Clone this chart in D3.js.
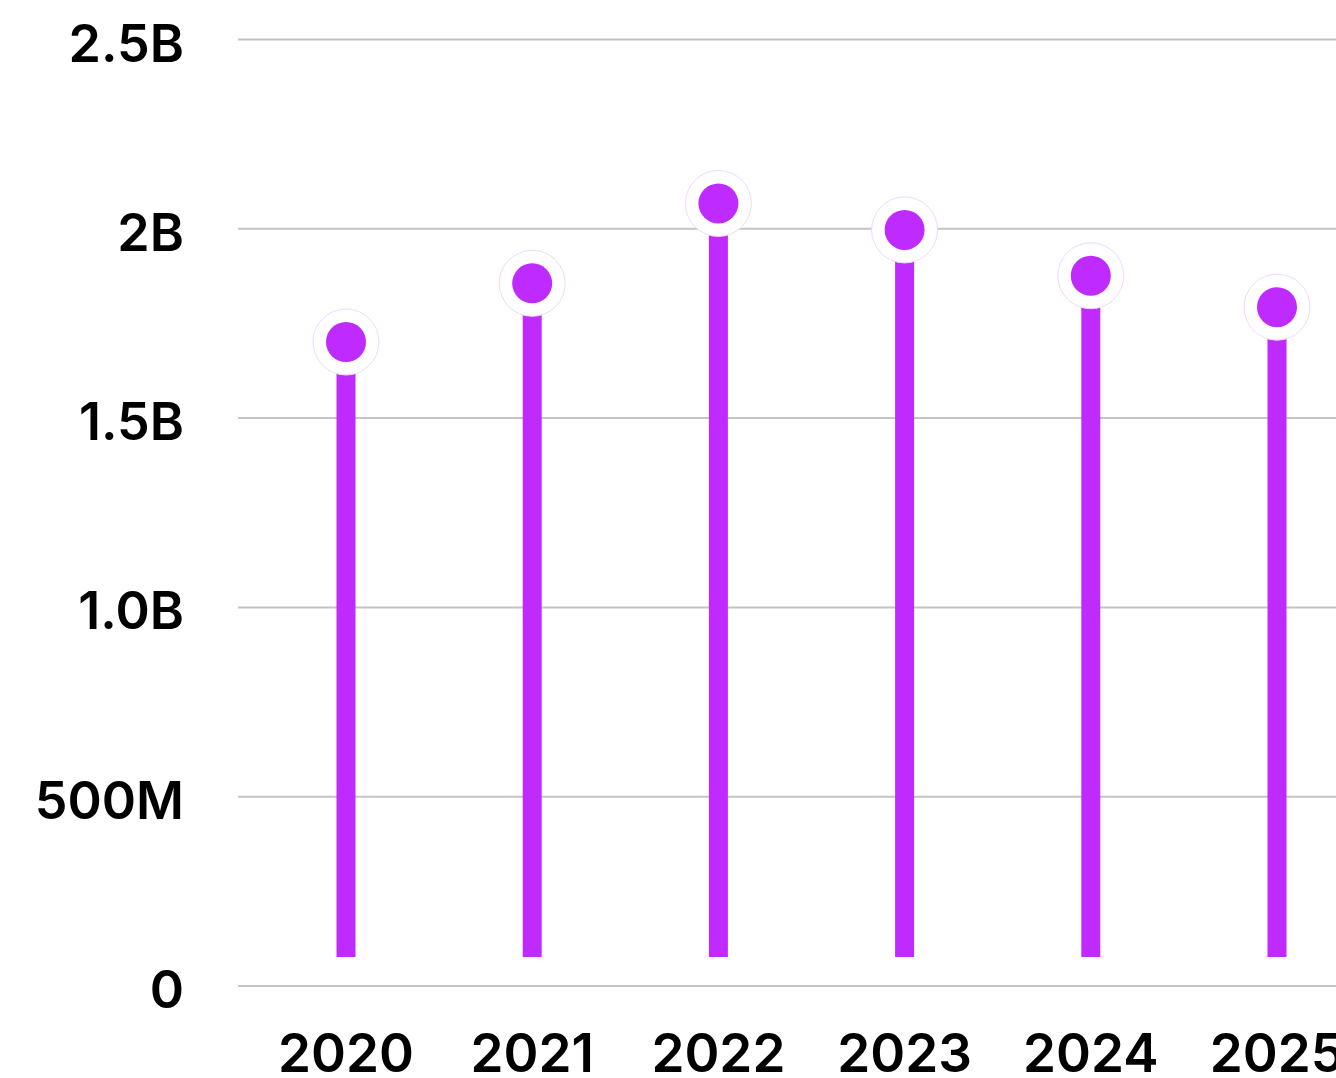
<!DOCTYPE html>
<html>
<head>
<meta charset="utf-8">
<script src="https://cdn.jsdelivr.net/npm/d3@7"></script>
<style>
  html, body { margin: 0; padding: 0; background: #fff; }
  svg { display: block; }
</style>
</head>
<body>
<svg id="chart"></svg>
<script>
// data
var years = ["2020", "2021", "2022", "2023", "2024", "2025"];
var values = [1.701e9, 1.856e9, 2.067e9, 1.997e9, 1.876e9, 1.793e9];
var tickValues = [0, 0.5e9, 1.0e9, 1.5e9, 2.0e9, 2.5e9];
var tickLabels = ["0", "500M", "1.0B", "1.5B", "2B", "2.5B"];

var W = 1336, H = 1078;
var purple = "#bf2bff";

var svg = d3.select("#chart")
    .attr("width", W)
    .attr("height", H);

var xScale = d3.scalePoint()
    .domain(years)
    .range([346, 1277]);

var yScale = d3.scaleLinear()
    .domain([0, 2.5e9])
    .range([986, 39.5]);

// gridlines
svg.append("g")
    .selectAll("line")
    .data(tickValues)
    .join("line")
    .attr("x1", 238)
    .attr("x2", W)
    .attr("y1", d => yScale(d))
    .attr("y2", d => yScale(d))
    .attr("stroke", "#c4c4c4")
    .attr("stroke-width", 2);

// y labels
svg.append("g")
    .selectAll("text")
    .data(tickValues)
    .join("text")
    .attr("x", 184)
    .attr("y", d => yScale(d) + 22)
    .attr("text-anchor", "end")
    .attr("font-family", "Inter, sans-serif")
    .attr("font-weight", 600)
    .attr("font-size", 52)
    .attr("fill", "#000")
    .text((d, i) => tickLabels[i]);

// x labels
svg.append("g")
    .selectAll("text")
    .data(years)
    .join("text")
    .attr("x", d => xScale(d))
    .attr("y", 1072)
    .attr("text-anchor", "middle")
    .attr("font-family", "Inter, sans-serif")
    .attr("font-weight", 600)
    .attr("font-size", 53)
    .attr("fill", "#000")
    .text(d => d);

// stems stop a little above the zero line
var stemGap = 29;
svg.append("g")
    .selectAll("line")
    .data(values)
    .join("line")
    .attr("x1", (d, i) => xScale(years[i]))
    .attr("x2", (d, i) => xScale(years[i]))
    .attr("y1", d => yScale(d))
    .attr("y2", yScale(0) - stemGap)
    .attr("stroke", purple)
    .attr("stroke-width", 19);

// white halo + dot
var dots = svg.append("g")
    .selectAll("g")
    .data(values)
    .join("g")
    .attr("transform", (d, i) => `translate(${xScale(years[i])},${yScale(d)})`);

dots.append("circle")
    .attr("r", 33)
    .attr("fill", "#fff")
    .attr("stroke", "#f0d8ff")
    .attr("stroke-width", 1);

dots.append("circle")
    .attr("r", 20)
    .attr("fill", purple);
</script>
</body>
</html>
